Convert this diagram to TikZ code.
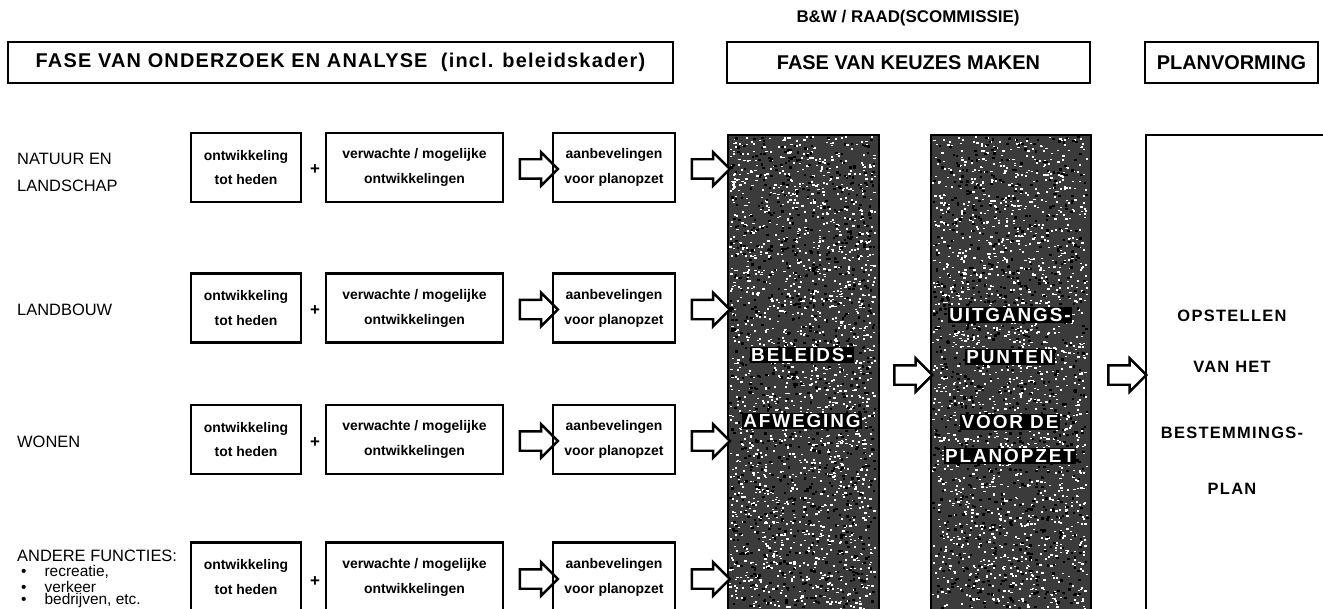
\documentclass[tikz,border=0pt]{standalone}
\usepackage{fontspec}
\setmainfont{Liberation Sans}
\usetikzlibrary{shapes.arrows}

\tikzset{
  phasebox/.style={draw,line width=1.5bp,minimum height=41bp,inner sep=0pt,
    font=\bfseries\fontsize{20}{22}\selectfont},
  stepbox/.style={draw,line width=2.2bp,align=center,minimum height=69bp,inner sep=0pt,
    font=\bfseries\fontsize{14}{25}\selectfont},
  hollow/.style={single arrow,draw,line width=2.4bp,fill=white,inner xsep=0pt,inner ysep=8.5bp,
    minimum height=38bp,single arrow head extend=7bp},
  darkcol/.style={draw,line width=2.2bp,fill=black!77,anchor=north west,inner sep=0pt},
  inverse/.style={text=white,fill=black,inner sep=1.5bp,
    font=\bfseries\fontsize{19}{21}\selectfont\addfontfeature{LetterSpace=10}},
  sidelabel/.style={anchor=west,align=left,inner sep=0pt,font=\fontsize{16.5}{27}\selectfont},
  bulletlabel/.style={anchor=west,inner sep=0pt,font=\fontsize{15.5}{16}\selectfont},
  plantext/.style={font=\bfseries\fontsize{16.5}{18}\selectfont\addfontfeature{LetterSpace=8}},
}

\begin{document}
\begin{tikzpicture}[x=1bp,y=-1bp]
  \useasboundingbox (0,0) rectangle (1323,609);
  % Headers
  \node (bw) at (908,18) {\bfseries\fontsize{17}{19}\selectfont B\&W / RAAD(SCOMMISSIE)};
  \node[phasebox,minimum width=665bp,font=\bfseries\fontsize{20}{22}\selectfont\addfontfeature{LetterSpace=6}] (onderzoek) at (340.5,62.5) {FASE VAN ONDERZOEK EN ANALYSE\ \ (incl. beleidskader)};
  \node[phasebox,minimum width=363bp] (keuzes) at (908.5,62.5) {FASE VAN KEUZES MAKEN};
  \node[phasebox,minimum width=173bp] (planvorming) at (1231.5,62.5) {PLANVORMING};
  %
  % Node: columns
  \pgfmathsetseed{4711}
  \node[darkcol,minimum width=151bp,minimum height=480bp] (afweging) at (727,134) {};
  \node[darkcol,minimum width=160bp,minimum height=480bp] (uitgangspunten) at (930,134) {};
  \foreach \i in {1,...,1800} {
    \fill[white] ({729+145*rnd},{136+472*rnd}) rectangle +(2.2,1.6);
    \fill[white] ({932+154*rnd},{136+472*rnd}) rectangle +(2.2,1.6);
  }
  \foreach \i in {1,...,900} {
    \fill[black] ({729+145*rnd},{136+472*rnd}) rectangle +(2.6,2.2);
    \fill[black] ({932+154*rnd},{136+472*rnd}) rectangle +(2.6,2.2);
  }
  \node[draw,line width=2.2bp,anchor=north west,minimum width=200bp,minimum height=480bp,inner sep=0pt] (plan) at (1145,134) {};
  %
  % Node: column texts
  \node[inverse] (beleids) at (802,355) {BELEIDS-};
  \node[inverse] (afw) at (802,421) {AFWEGING};
  \node[inverse] (uitg) at (1010,315) {UITGANGS-};
  \node[inverse] (punten) at (1010,357) {PUNTEN};
  \node[inverse] (voorde) at (1010,422) {VOOR DE};
  \node[inverse] (planopzet) at (1010,456) {PLANOPZET};
  \node[plantext] (opstellen) at (1232,316) {OPSTELLEN};
  \node[plantext] (vanhet) at (1232,367) {VAN HET};
  \node[plantext] (bestemmings) at (1232,433) {BESTEMMINGS-};
  \node[plantext] (planw) at (1232,489) {PLAN};
  %
  % Edge: columns
  \node[hollow] (a1) at (908.5,375) {};
  \node[hollow] (a2) at (1122.5,375) {};
  %
  % Row: natuur en landschap
  \node[sidelabel] (natuur) at (17,172.5) {NATUUR EN\\LANDSCHAP};
  \node[stepbox,minimum width=110bp] (ont1) at (246,167.5) {ontwikkeling\\tot heden};
  \node (plus1) at (315,170) {\bfseries\fontsize{17}{19}\selectfont +};
  \node[stepbox,minimum width=177bp] (ver1) at (414.5,167.5) {verwachte / mogelijke\\ontwikkelingen};
  \node[hollow] (p1) at (534,169) {};
  \node[stepbox,minimum width=122bp] (aan1) at (614,167.5) {aanbevelingen\\voor planopzet};
  \node[hollow] (q1) at (706,169) {};
  %
  % Row: landbouw
  \node[sidelabel] (landbouw) at (17,310) {LANDBOUW};
  \node[stepbox,minimum width=110bp] (ont2) at (246,308) {ontwikkeling\\tot heden};
  \node (plus2) at (315,311) {\bfseries\fontsize{17}{19}\selectfont +};
  \node[stepbox,minimum width=177bp] (ver2) at (414.5,308) {verwachte / mogelijke\\ontwikkelingen};
  \node[hollow] (p2) at (534,309.5) {};
  \node[stepbox,minimum width=122bp] (aan2) at (614,308) {aanbevelingen\\voor planopzet};
  \node[hollow] (q2) at (706,309.5) {};
  %
  % Row: wonen
  \node[sidelabel] (wonen) at (17,442) {WONEN};
  \node[stepbox,minimum width=110bp] (ont3) at (246,439.5) {ontwikkeling\\tot heden};
  \node (plus3) at (315,443) {\bfseries\fontsize{17}{19}\selectfont +};
  \node[stepbox,minimum width=177bp] (ver3) at (414.5,439.5) {verwachte / mogelijke\\ontwikkelingen};
  \node[hollow] (p3) at (534,441) {};
  \node[stepbox,minimum width=122bp] (aan3) at (614,439.5) {aanbevelingen\\voor planopzet};
  \node[hollow] (q3) at (706,441) {};
  %
  % Row: andere functies
  \node[sidelabel] (andere) at (17,556) {ANDERE FUNCTIES:};
  \node[bulletlabel] (b1) at (21,572) {\textbullet\hspace{18bp}recreatie,};
  \node[bulletlabel] (b2) at (21,586.5) {\textbullet\hspace{18bp}verkeer};
  \node[bulletlabel] (b3) at (21,601) {\textbullet\hspace{18bp}bedrijven, etc.};
  \node[stepbox,minimum width=110bp] (ont4) at (246,577) {ontwikkeling\\tot heden};
  \node (plus4) at (315,582) {\bfseries\fontsize{17}{19}\selectfont +};
  \node[stepbox,minimum width=177bp] (ver4) at (414.5,577) {verwachte / mogelijke\\ontwikkelingen};
  \node[hollow] (p4) at (534,579) {};
  \node[stepbox,minimum width=122bp] (aan4) at (614,577) {aanbevelingen\\voor planopzet};
  \node[hollow] (q4) at (706,579) {};
  %
\end{tikzpicture}
\end{document}
